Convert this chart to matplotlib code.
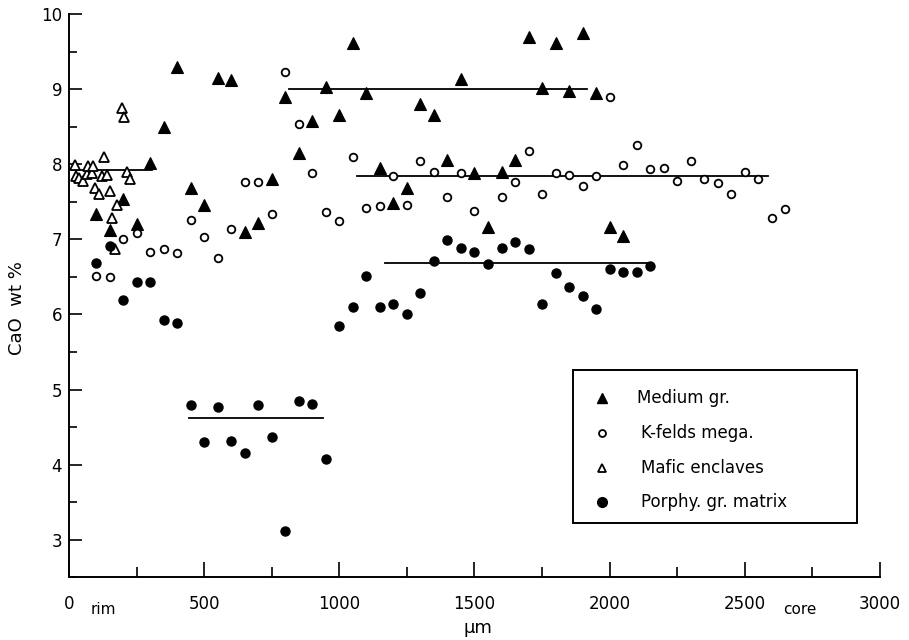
import matplotlib
matplotlib.use("Agg")
import matplotlib.pyplot as plt
from matplotlib.ticker import MultipleLocator
from matplotlib.patches import Rectangle

# ---------------- data ----------------
medium_x = [100, 150, 200, 250, 300, 350, 400, 450, 500, 550, 600, 650, 700, 750,
            800, 850, 900, 950, 1000, 1050, 1100, 1150, 1200, 1250, 1300, 1350,
            1400, 1450, 1500, 1550, 1600, 1650, 1700, 1750, 1800, 1850, 1900,
            1950, 2000, 2050]
medium_y = [7.34, 7.13, 7.54, 7.20, 8.02, 8.49, 9.30, 7.69, 7.46, 9.15, 9.12, 7.10,
            7.22, 7.81, 8.90, 8.15, 8.57, 9.03, 8.65, 9.61, 8.95, 7.95, 7.49, 7.69,
            8.80, 8.66, 8.06, 9.13, 7.89, 7.16, 7.90, 8.06, 9.69, 9.02, 9.61, 8.97,
            9.75, 8.95, 7.16, 7.05]

kfeld_x = [100, 150, 200, 250, 300, 350, 400, 450, 500, 550, 600, 650, 700, 750,
           800, 850, 900, 950, 1000, 1050, 1100, 1150, 1200, 1250, 1300, 1350,
           1400, 1450, 1500, 1600, 1650, 1700, 1750, 1800, 1850, 1900, 1950,
           2000, 2050, 2100, 2150, 2200, 2250, 2300, 2350, 2400, 2450, 2500,
           2550, 2600, 2650]
kfeld_y = [6.51, 6.50, 7.01, 7.08, 6.83, 6.87, 6.82, 7.26, 7.03, 6.75, 7.14, 7.77,
           7.76, 7.34, 9.23, 8.53, 7.89, 7.37, 7.25, 8.10, 7.42, 7.45, 7.85, 7.46,
           8.05, 7.90, 7.57, 7.88, 7.38, 7.57, 7.77, 8.18, 7.61, 7.88, 7.86, 7.71,
           7.84, 8.90, 7.99, 8.25, 7.94, 7.95, 7.78, 8.04, 7.81, 7.75, 7.60, 7.90,
           7.80, 7.28, 7.41]

mafic_x = [22, 26, 37, 52, 67, 70, 85, 89, 96, 111, 122, 129, 141, 152, 159, 170,
           178, 196, 203, 215, 226]
mafic_y = [7.99, 7.84, 7.82, 7.78, 7.87, 7.98, 7.89, 7.98, 7.68, 7.61, 7.84, 8.10,
           7.86, 7.64, 7.28, 6.87, 7.46, 8.75, 8.63, 7.90, 7.81]

porphy_x = [100, 150, 200, 250, 300, 350, 400, 450, 500, 550, 600, 650, 700, 750,
            800, 850, 900, 950, 1000, 1050, 1100, 1150, 1200, 1250, 1300, 1350,
            1400, 1450, 1500, 1550, 1600, 1650, 1700, 1750, 1800, 1850, 1900,
            1950, 2000, 2050, 2100, 2150]
porphy_y = [6.69, 6.91, 6.19, 6.43, 6.43, 5.92, 5.88, 4.79, 4.30, 4.77, 4.31, 4.16,
            4.79, 4.37, 3.11, 4.85, 4.81, 4.07, 5.85, 6.10, 6.51, 6.10, 6.14, 6.00,
            6.28, 6.71, 6.99, 6.89, 6.83, 6.67, 6.89, 6.97, 6.87, 6.14, 6.55, 6.36,
            6.24, 6.07, 6.61, 6.57, 6.56, 6.64]

# mean lines: (start, end, level)
mean_start = [10, 815, 1065, 1170, 445]
mean_end = [305, 1915, 2585, 2140, 940]
mean_level = [7.93, 9.00, 7.85, 6.69, 4.62]

legend_labels = ["Medium gr.", "K-felds mega.", "Mafic enclaves", "Porphy. gr. matrix"]
xticks = [0, 500, 1000, 1500, 2000, 2500, 3000]
yticks = [3, 4, 5, 6, 7, 8, 9, 10]

# ---------------- figure ----------------
plt.rcParams['font.family'] = ['DejaVu Sans']
fig = plt.figure(figsize=(9.09, 6.40), dpi=100)
ax = fig.add_axes([0.076, 0.098, 0.892, 0.880])

k = 'black'
styles = [
    dict(marker='^', ms=8, mfc=k, mec=k, mew=0.8),
    dict(marker='o', ms=5.5, mfc='white', mec=k, mew=1.3),
    dict(marker='^', ms=7, mfc='white', mec=k, mew=1.3),
    dict(marker='o', ms=6.5, mfc=k, mec=k),
]
series = [(medium_x, medium_y), (kfeld_x, kfeld_y), (mafic_x, mafic_y),
          (porphy_x, porphy_y)]
for (xs, ys), st in zip(series, styles):
    ax.plot(xs, ys, ls='none', **st)

for s, e, lv in zip(mean_start, mean_end, mean_level):
    ax.plot([s, e], [lv, lv], color=k, lw=1.3, zorder=1)

ax.set_xlim(0, 3000)
ax.set_ylim(2.5, 10)
ax.set_xticks(xticks)
ax.set_yticks(yticks)
ax.xaxis.set_minor_locator(MultipleLocator(250))
ax.yaxis.set_minor_locator(MultipleLocator(0.5))
ax.tick_params(axis='x', which='major', direction='in', length=11, width=1.2,
               labelsize=12, pad=13)
ax.tick_params(axis='x', which='minor', direction='in', length=7, width=1.2)
ax.tick_params(axis='y', which='major', direction='in', length=9, width=1.2,
               labelsize=12, pad=5)
ax.tick_params(axis='y', which='minor', direction='in', length=6, width=1.2)

for sp in ['top', 'right']:
    ax.spines[sp].set_visible(False)
for sp in ['left', 'bottom']:
    ax.spines[sp].set_linewidth(1.4)

fig.text(17 / 909, 1 - 308 / 640, "CaO  wt %", rotation=90, fontsize=13,
         ha='center', va='center')
fig.text(478 / 909, 1 - 628 / 640, "\u03bcm", fontsize=13, ha='center', va='center')
fig.text(103 / 909, 1 - 609 / 640, "rim", fontsize=11, ha='center', va='center')
fig.text(800 / 909, 1 - 610 / 640, "core", fontsize=11, ha='center', va='center')

# ---- hand-drawn legend box (axes coordinates) ----
def axx(px):
    return (px - 69) / 811.0

def axy(py):
    return (577 - py) / 563.0

box = Rectangle((axx(573), axy(523)), axx(857) - axx(573), axy(370) - axy(523),
                transform=ax.transAxes, fill=True, facecolor='white',
                edgecolor=k, lw=1.4, zorder=5)
ax.add_patch(box)
row_py = [398, 433, 468, 502]
text_px = [637, 641, 641, 641]
leg_styles = [
    dict(marker='^', ms=7, mfc=k, mec=k),
    dict(marker='o', ms=5, mfc='white', mec=k, mew=1.3),
    dict(marker='^', ms=6, mfc='white', mec=k, mew=1.3),
    dict(marker='o', ms=7, mfc=k, mec=k),
]
for lab, py, tpx, st in zip(legend_labels, row_py, text_px, leg_styles):
    ax.plot([axx(602)], [axy(py)], ls='none', transform=ax.transAxes,
            zorder=6, clip_on=False, **st)
    ax.text(axx(tpx), axy(py), lab, transform=ax.transAxes, fontsize=12,
            ha='left', va='center', zorder=6)

fig.savefig("out.png", dpi=100)
